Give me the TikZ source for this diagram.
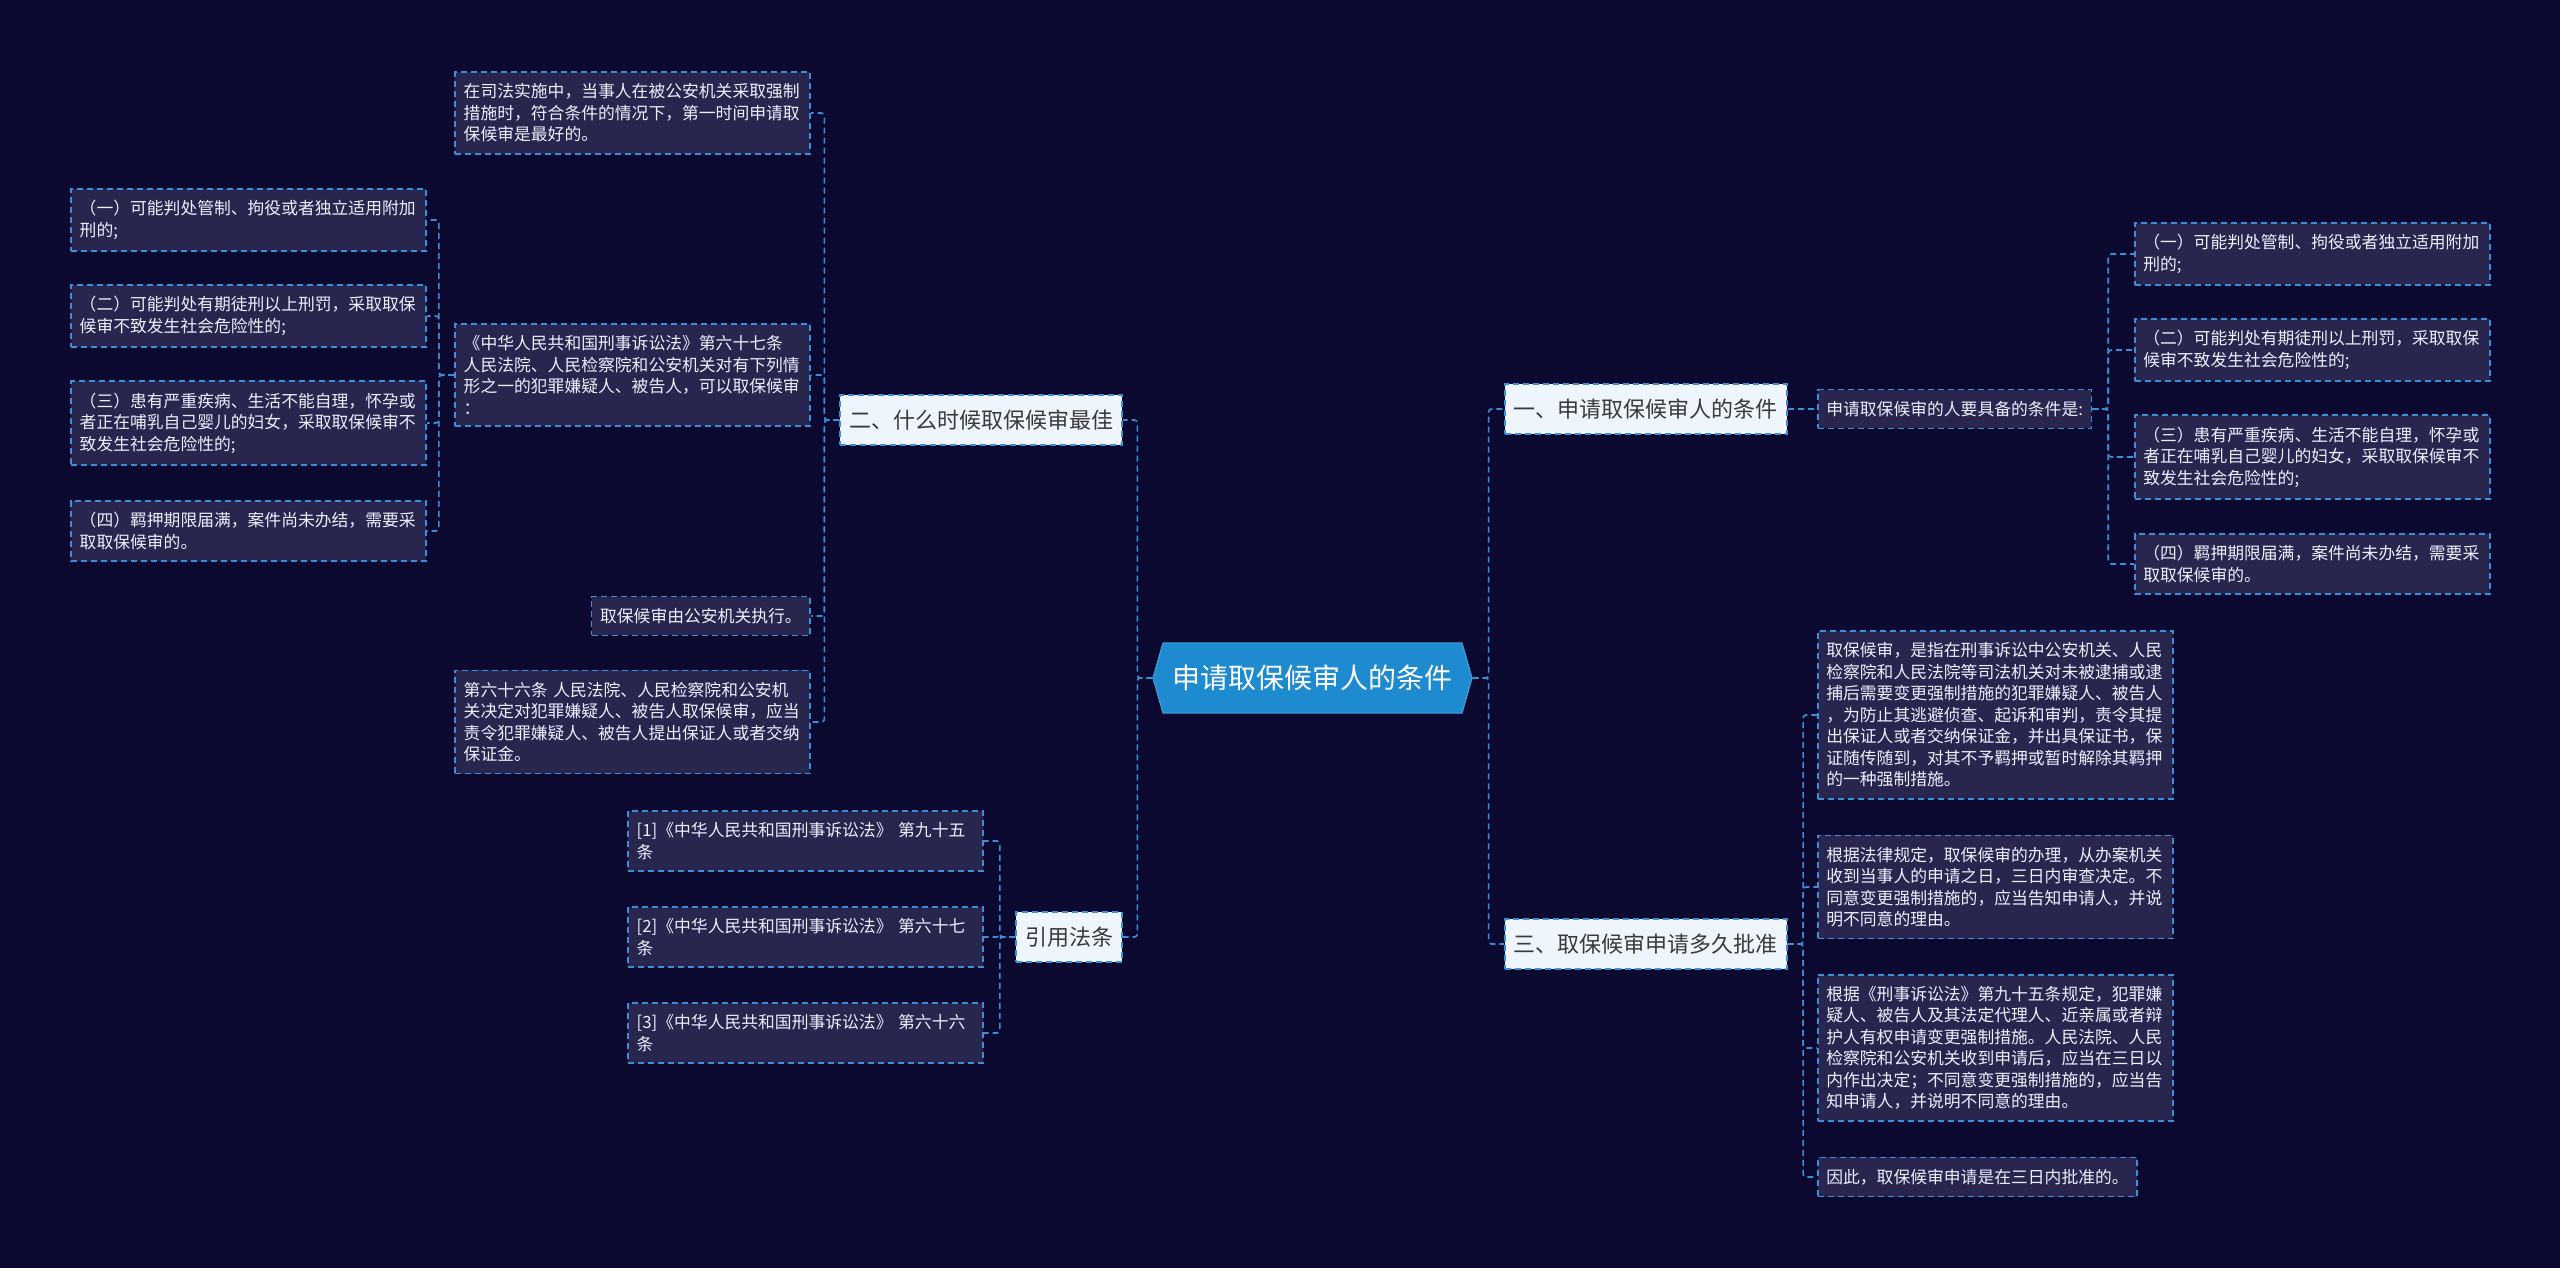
\documentclass[tikz,border=0pt]{standalone}
\usepackage{fontspec}
\newfontfamily\cjk{Noto Sans CJK SC}
\usepackage{tikz}
\usetikzlibrary{shapes.symbols}

\definecolor{bgc}{HTML}{0B0930}
\definecolor{leafc}{HTML}{28254F}
\definecolor{linec}{HTML}{3A8FD8}
\definecolor{branchc}{HTML}{EEF5FC}
\definecolor{rootc}{HTML}{1E8AD0}
\definecolor{inkc}{HTML}{3A3A3A}

\tikzset{
  leaf/.style={draw=linec, fill=leafc, dash pattern=on 6pt off 4pt, line width=1.6pt,
    text=white!94!blue, font=\cjk\fontsize{16.8}{21.5}\selectfont,
    align=left, text width=338pt, inner xsep=8.5pt, inner ysep=11.5pt},
  shortleaf/.style={leaf, text width=},
  branch/.style={draw=linec, fill=branchc, dash pattern=on 6pt off 4pt, line width=1.6pt,
    text=inkc, font=\cjk\fontsize{22}{26}\selectfont, minimum height=50pt, inner xsep=9pt},
  root/.style={signal, signal to=west and east, signal pointer angle=148,
    fill=rootc, draw=rootc!85!white, line width=1.2pt, text=white,
    font=\cjk\fontsize{28}{32}\selectfont, minimum width=319pt, minimum height=70pt, inner sep=0pt},
  link/.style={draw=linec, dash pattern=on 6pt off 4pt, line width=1.6pt, rounded corners=3pt}
}

\begin{document}
\begin{tikzpicture}[x=1pt,y=-1pt]
\fill[bgc] (0,0) rectangle (2560,1268);
\useasboundingbox (0,0) rectangle (2560,1268);

% centre
\node[root] (root) at (1312.5,678) {申请取保候审人的条件};

% left: branch two
\node[branch, anchor=east] (b2) at (1123,420) {二、什么时候取保候审最佳};
\node[leaf, anchor=east] (n2a) at (811,113) {在司法实施中，当事人在被公安机关采取强制\\措施时，符合条件的情况下，第一时间申请取\\保候审是最好的。};
\node[leaf, anchor=east] (n2b) at (811,375) {《中华人民共和国刑事诉讼法》第六十七条\\人民法院、人民检察院和公安机关对有下列情\\形之一的犯罪嫌疑人、被告人，可以取保候审\\：};
\node[shortleaf, anchor=east] (n2c) at (811,616) {取保候审由公安机关执行。};
\node[leaf, anchor=east] (n2d) at (811,722) {第六十六条 人民法院、人民检察院和公安机\\关决定对犯罪嫌疑人、被告人取保候审，应当\\责令犯罪嫌疑人、被告人提出保证人或者交纳\\保证金。};

% conditions under article 67
\node[leaf, anchor=east] (lc1) at (427,220) {（一）可能判处管制、拘役或者独立适用附加\\刑的;};
\node[leaf, anchor=east] (lc2) at (427,316) {（二）可能判处有期徒刑以上刑罚，采取取保\\候审不致发生社会危险性的;};
\node[leaf, anchor=east] (lc3) at (427,423) {（三）患有严重疾病、生活不能自理，怀孕或\\者正在哺乳自己婴儿的妇女，采取取保候审不\\致发生社会危险性的;};
\node[leaf, anchor=east] (lc4) at (427,531) {（四）羁押期限届满，案件尚未办结，需要采\\取取保候审的。};

% left: cited articles
\node[branch, anchor=east] (bref) at (1123,937) {引用法条};
\node[leaf, anchor=east] (ref1) at (984,841) {[1]《中华人民共和国刑事诉讼法》 第九十五\\条};
\node[leaf, anchor=east] (ref2) at (984,937) {[2]《中华人民共和国刑事诉讼法》 第六十七\\条};
\node[leaf, anchor=east] (ref3) at (984,1033) {[3]《中华人民共和国刑事诉讼法》 第六十六\\条};

% right: branch one
\node[branch, anchor=west] (b1) at (1504,409) {一、申请取保候审人的条件};
\node[shortleaf, anchor=west] (n1a) at (1817,409) {申请取保候审的人要具备的条件是:};
\node[leaf, anchor=west] (rc1) at (2134,254) {（一）可能判处管制、拘役或者独立适用附加\\刑的;};
\node[leaf, anchor=west] (rc2) at (2134,350) {（二）可能判处有期徒刑以上刑罚，采取取保\\候审不致发生社会危险性的;};
\node[leaf, anchor=west] (rc3) at (2134,457) {（三）患有严重疾病、生活不能自理，怀孕或\\者正在哺乳自己婴儿的妇女，采取取保候审不\\致发生社会危险性的;};
\node[leaf, anchor=west] (rc4) at (2134,564) {（四）羁押期限届满，案件尚未办结，需要采\\取取保候审的。};

% right: branch three
\node[branch, anchor=west] (b3) at (1504,944) {三、取保候审申请多久批准};
\node[leaf, anchor=west] (n3a) at (1817,715) {取保候审，是指在刑事诉讼中公安机关、人民\\检察院和人民法院等司法机关对未被逮捕或逮\\捕后需要变更强制措施的犯罪嫌疑人、被告人\\，为防止其逃避侦查、起诉和审判，责令其提\\出保证人或者交纳保证金，并出具保证书，保\\证随传随到，对其不予羁押或暂时解除其羁押\\的一种强制措施。};
\node[leaf, anchor=west] (n3b) at (1817,887) {根据法律规定，取保候审的办理，从办案机关\\收到当事人的申请之日，三日内审查决定。不\\同意变更强制措施的，应当告知申请人，并说\\明不同意的理由。};
\node[leaf, anchor=west] (n3c) at (1817,1048) {根据《刑事诉讼法》第九十五条规定，犯罪嫌\\疑人、被告人及其法定代理人、近亲属或者辩\\护人有权申请变更强制措施。人民法院、人民\\检察院和公安机关收到申请后，应当在三日以\\内作出决定；不同意变更强制措施的，应当告\\知申请人，并说明不同意的理由。};
\node[shortleaf, anchor=west] (n3d) at (1817,1177) {因此，取保候审申请是在三日内批准的。};

% connectors, left side
\foreach \c in {b2,bref} \draw[link] (root.west) -- ++(-15,0) |- (\c.east);
\foreach \c in {n2a,n2b,n2c,n2d} \draw[link] (b2.west) -- ++(-15,0) |- (\c.east);
\foreach \c in {lc1,lc2,lc3,lc4} \draw[link] (n2b.west) -- ++(-15.5,0) |- (\c.east);
\foreach \c in {ref1,ref2,ref3} \draw[link] (bref.west) -- ++(-15.5,0) |- (\c.east);

% connectors, right side
\foreach \c in {b1,b3} \draw[link] (root.east) -- ++(16,0) |- (\c.west);
\draw[link] (b1.east) -- (n1a.west);
\foreach \c in {rc1,rc2,rc3,rc4} \draw[link] (n1a.east) -- ++(16,0) |- (\c.west);
\foreach \c in {n3a,n3b,n3c,n3d} \draw[link] (b3.east) -- ++(15.5,0) |- (\c.west);
\end{tikzpicture}
\end{document}
